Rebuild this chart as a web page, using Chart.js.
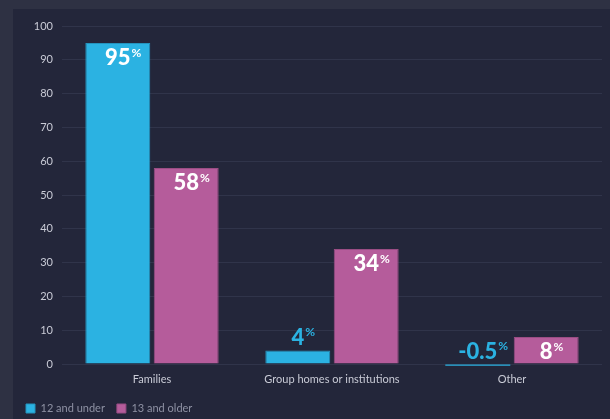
<!DOCTYPE html>
<html>
<head>
<meta charset="utf-8">
<script src="https://cdn.jsdelivr.net/npm/chart.js@4/dist/chart.umd.min.js"></script>
<style>
  html, body { margin: 0; padding: 0; }
  body { width: 610px; height: 419px; background: #2e3143; position: relative; overflow: hidden; }
  #panel { position: absolute; left: 13px; top: 9px; width: 597px; height: 410px; background: #23263a; }
</style>
</head>
<body>
<div id="panel"><canvas id="chart" width="597" height="410"></canvas></div>
<script>
const categories = ['Families', 'Group homes or institutions', 'Other'];
const under12 = [95, 4, -0.5];
const over13 = [58, 34, 8];
const seriesNames = ['12 and under', '13 and older'];
const yTicks = [0, 10, 20, 30, 40, 50, 60, 70, 80, 90, 100];

const BLUE = '#2bb2e2';
const PINK = '#b55c9b';

// value labels: big number + small superscript %
const valueLabels = {
  id: 'valueLabels',
  afterDatasetsDraw(chart) {
    const ctx = chart.ctx;
    chart.data.datasets.forEach((ds, di) => {
      const meta = chart.getDatasetMeta(di);
      meta.data.forEach((bar, i) => {
        const v = ds.data[i];
        const txt = String(v);
        const h = Math.abs(bar.base - bar.y);
        const inside = h > 25;
        const top = Math.min(bar.y, bar.base);
        const y = inside ? top + 15 : top - 13;
        ctx.save();
        ctx.fillStyle = inside ? '#ffffff' : ds.backgroundColor;
        ctx.textBaseline = 'middle';
        ctx.font = '900 22px Lato';
        const w = ctx.measureText(txt).width;
        const x0 = bar.x - w / 2;
        ctx.textAlign = 'left';
        ctx.fillText(txt, x0, y);
        ctx.font = '700 12px Lato';
        ctx.fillText('%', x0 + w + 1, y - 5);
        ctx.restore();
      });
    });
  }
};

// pin the legend to a fixed height so it sits low in the panel
const legendHeight = {
  id: 'legendHeight',
  afterInit(chart) {
    const lg = chart.legend;
    const fit = lg.fit;
    lg.fit = function () { fit.call(this); this.height = 28; };
  }
};

const barBorder = c => (Math.abs(c.raw) < 1 ? 0 : 1);

new Chart(document.getElementById('chart'), {
  type: 'bar',
  data: {
    labels: categories,
    datasets: [
      {
        label: seriesNames[0],
        data: under12,
        backgroundColor: BLUE,
        borderColor: '#2493bd',
        borderWidth: barBorder,
        categoryPercentage: 0.76,
        barPercentage: 0.95,
        clip: false
      },
      {
        label: seriesNames[1],
        data: over13,
        backgroundColor: PINK,
        borderColor: '#9a4d84',
        borderWidth: barBorder,
        categoryPercentage: 0.76,
        barPercentage: 0.95,
        clip: false
      }
    ]
  },
  options: {
    responsive: false,
    animation: false,
    layout: { padding: { left: 1, right: 8, top: 17, bottom: 0 } },
    plugins: {
      tooltip: { enabled: false },
      legend: {
        position: 'bottom',
        align: 'start',
        labels: {
          color: '#8e91a3',
          font: { family: 'Lato', size: 11 },
          boxWidth: 9,
          boxHeight: 9,
          padding: 12
        }
      }
    },
    scales: {
      x: {
        afterFit(scale) { scale.height = 27; },
        grid: { display: false },
        border: { display: false },
        ticks: { color: '#c9cbd6', font: { family: 'Lato', size: 11 }, padding: 1 }
      },
      y: {
        min: 0,
        max: 100,
        afterFit(scale) { scale.width = 48; },
        afterBuildTicks(scale) { scale.ticks = yTicks.map(v => ({ value: v })); },
        grid: { color: '#30344a', drawTicks: false },
        border: { display: false },
        ticks: { color: '#c9cbd6', font: { family: 'Lato', size: 11 }, padding: 9 }
      }
    }
  },
  plugins: [valueLabels, legendHeight]
});
</script>
</body>
</html>
